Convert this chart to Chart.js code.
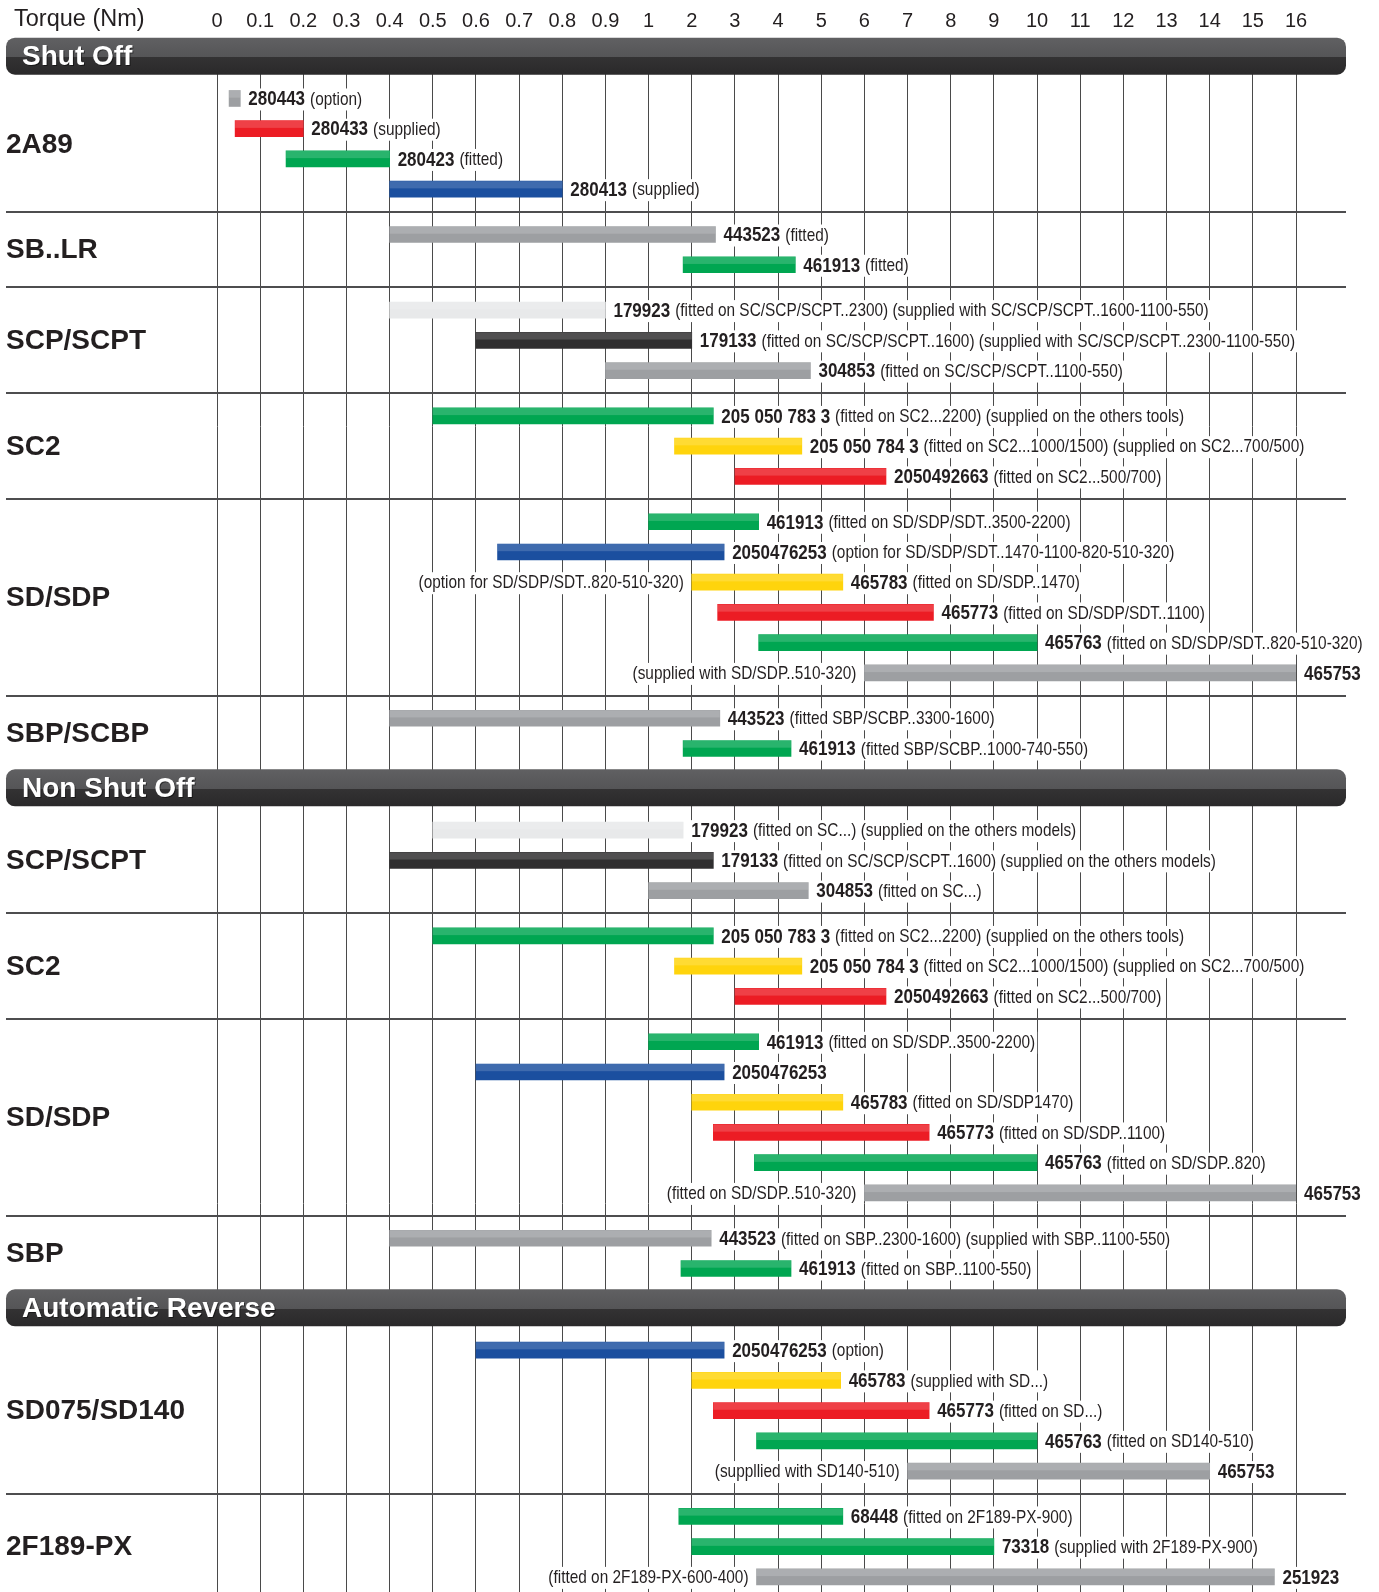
<!DOCTYPE html>
<html>
<head>
<meta charset="utf-8">
<title>Torque chart</title>
<script src="https://cdn.jsdelivr.net/npm/chart.js@4"></script>
<style>
  html, body { margin: 0; padding: 0; background: #fff; }
  #wrap { position: relative; width: 1379px; height: 1592px; }
</style>
</head>
<body>
<div id="wrap"><canvas id="chart"></canvas></div>
<script>
// Tick labels along the top (scale is 0..1 by 0.1, then 1..16 by 1)
const tickLabels = ["0","0.1","0.2","0.3","0.4","0.5","0.6","0.7","0.8","0.9",
  "1","2","3","4","5","6","7","8","9","10","11","12","13","14","15","16"];

const sections = ["Shut Off", "Non Shut Off", "Automatic Reverse"];

const groupNames = ["2A89", "SB..LR", "SCP/SCPT", "SC2", "SD/SDP", "SBP/SCBP",
  "SCP/SCPT", "SC2", "SD/SDP", "SBP",
  "SD075/SD140", "2F189-PX"];
const groupSection = [0, 0, 0, 0, 0, 0, 1, 1, 1, 1, 2, 2];

// one entry per bar
const barGroup = [
  0, 0, 0, 0,
  1, 1,
  2, 2, 2,
  3, 3, 3,
  4, 4, 4, 4, 4, 4,
  5, 5,
  6, 6, 6,
  7, 7, 7,
  8, 8, 8, 8, 8, 8,
  9, 9,
  10, 10, 10, 10, 10,
  11, 11, 11
];
const barStart = [
  0.028, 0.042, 0.16, 0.4,
  0.4, 1.8,
  0.4, 0.6, 0.9,
  0.5, 1.6, 3,
  1, 0.65, 2, 2.6, 3.55, 6,
  0.4, 1.8,
  0.5, 0.4, 1,
  0.5, 1.6, 3,
  1, 0.6, 2, 2.5, 3.45, 6,
  0.4, 1.75,
  0.6, 2, 2.5, 3.5, 7,
  1.7, 2, 3.5
];
const barEnd = [
  0.054, 0.2, 0.4, 0.8,
  2.55, 4.4,
  0.9, 2, 4.75,
  2.5, 4.55, 6.5,
  3.55, 2.75, 5.5, 7.6, 10, 16,
  2.65, 4.3,
  1.8, 2.5, 4.7,
  2.5, 4.55, 6.5,
  3.55, 2.75, 5.5, 7.5, 10, 16,
  2.45, 4.3,
  2.75, 5.45, 7.5, 10, 14,
  5.5, 9, 15.5
];
const barColor = [
  "gray", "red", "green", "blue",
  "gray", "green",
  "light", "black", "gray",
  "green", "yellow", "red",
  "green", "blue", "yellow", "red", "green", "gray",
  "gray", "green",
  "light", "black", "gray",
  "green", "yellow", "red",
  "green", "blue", "yellow", "red", "green", "gray",
  "gray", "green",
  "blue", "yellow", "red", "green", "gray",
  "green", "green", "gray"
];
const barCode = [
  "280443", "280433", "280423", "280413",
  "443523", "461913",
  "179923", "179133", "304853",
  "205 050 783 3", "205 050 784 3", "2050492663",
  "461913", "2050476253", "465783", "465773", "465763", "465753",
  "443523", "461913",
  "179923", "179133", "304853",
  "205 050 783 3", "205 050 784 3", "2050492663",
  "461913", "2050476253", "465783", "465773", "465763", "465753",
  "443523", "461913",
  "2050476253", "465783", "465773", "465763", "465753",
  "68448", "73318", "251923"
];
const barNote = [
  "(option)", "(supplied)", "(fitted)", "(supplied)",
  "(fitted)", "(fitted)",
  "(fitted on SC/SCP/SCPT..2300) (supplied with SC/SCP/SCPT..1600-1100-550)",
  "(fitted on SC/SCP/SCPT..1600) (supplied with SC/SCP/SCPT..2300-1100-550)",
  "(fitted on SC/SCP/SCPT..1100-550)",
  "(fitted on SC2...2200) (supplied on the others tools)",
  "(fitted on SC2...1000/1500) (supplied on SC2...700/500)",
  "(fitted on SC2...500/700)",
  "(fitted on SD/SDP/SDT..3500-2200)",
  "(option for SD/SDP/SDT..1470-1100-820-510-320)",
  "(fitted on SD/SDP..1470)",
  "(fitted on SD/SDP/SDT..1100)",
  "(fitted on SD/SDP/SDT..820-510-320)",
  "",
  "(fitted SBP/SCBP..3300-1600)",
  "(fitted SBP/SCBP..1000-740-550)",
  "(fitted on SC...) (supplied on the others models)",
  "(fitted on SC/SCP/SCPT..1600) (supplied on the others models)",
  "(fitted on SC...)",
  "(fitted on SC2...2200) (supplied on the others tools)",
  "(fitted on SC2...1000/1500) (supplied on SC2...700/500)",
  "(fitted on SC2...500/700)",
  "(fitted on SD/SDP..3500-2200)",
  "",
  "(fitted on SD/SDP1470)",
  "(fitted on SD/SDP..1100)",
  "(fitted on SD/SDP..820)",
  "",
  "(fitted on SBP..2300-1600) (supplied with SBP..1100-550)",
  "(fitted on SBP..1100-550)",
  "(option)",
  "(supplied with SD...)",
  "(fitted on SD...)",
  "(fitted on SD140-510)",
  "",
  "(fitted on 2F189-PX-900)",
  "(supplied with 2F189-PX-900)",
  ""
];
const barLeftNote = [
  "", "", "", "",
  "", "",
  "", "", "",
  "", "", "",
  "", "", "(option for SD/SDP/SDT..820-510-320)", "", "", "(supplied with SD/SDP..510-320)",
  "", "",
  "", "", "",
  "", "", "",
  "", "", "", "", "", "(fitted on SD/SDP..510-320)",
  "", "",
  "", "", "", "", "(suppllied with SD140-510)",
  "", "", "(fitted on 2F189-PX-600-400)"
];

const palette = {
  gray: "#9d9fa2",
  red: "#ec1c24",
  green: "#00a651",
  blue: "#1b4f9f",
  light: "#e8e9ea",
  black: "#2f2e2f",
  yellow: "#ffd40c"
};

const SANS = "'Liberation Sans', Arial, Helvetica, sans-serif";
const INK = "#231f20";
const SQUEEZE = 0.81; // labels are set in a condensed face

// torque value -> position on the evenly spaced tick axis
const toIdx = v => (v <= 1 ? v * 10 : 9 + v);

// vertical layout of rows (in row units)
const headerPos = [];
const barPos = [];
let pos = null;
barGroup.forEach((g, i) => {
  const s = groupSection[g];
  if (i === 0 || s !== groupSection[barGroup[i - 1]]) {
    pos = pos === null ? 0 : pos + 1.3;
    headerPos.push(pos);
    pos += 1.4;
  } else if (g !== barGroup[i - 1]) {
    pos += 1.5;
  } else {
    pos += 1;
  }
  barPos.push(pos);
});

const chartData = barStart.map((s, i) => ({ x: [toIdx(s), toIdx(barEnd[i])], y: barPos[i] }));

function narrowText(ctx, text, x, y, align) {
  const w = ctx.measureText(text).width * SQUEEZE;
  const left = align === "right" ? x - w : x;
  ctx.save();
  ctx.translate(left, y);
  ctx.scale(SQUEEZE, 1);
  ctx.textAlign = "left";
  ctx.fillText(text, 0, 0);
  ctx.restore();
  return w;
}

// group labels, separators and section headers
const framePlugin = {
  id: "frame",
  afterDraw(chart) {
    const ctx = chart.ctx;
    const ys = chart.scales.y;
    const x0 = 6, x1 = 1346;
    ctx.save();

    ctx.fillStyle = INK;
    ctx.font = "23.5px " + SANS;
    ctx.textBaseline = "middle";
    ctx.textAlign = "left";
    ctx.fillText("Torque (Nm)", 14, 20);

    groupNames.forEach((name, g) => {
      const ps = barPos.filter((p, i) => barGroup[i] === g);
      const cy = ys.getPixelForValue((ps[0] + ps[ps.length - 1]) / 2);
      ctx.fillStyle = INK;
      ctx.font = "bold 28px " + SANS;
      ctx.textBaseline = "middle";
      ctx.fillText(name, 6, cy + 1);

      const next = g + 1;
      if (next < groupNames.length && groupSection[next] === groupSection[g]) {
        const nextFirst = barPos[barGroup.indexOf(next)];
        const sy = Math.round(ys.getPixelForValue((ps[ps.length - 1] + nextFirst) / 2));
        ctx.strokeStyle = "#4d4d4f";
        ctx.lineWidth = 2;
        ctx.beginPath();
        ctx.moveTo(x0, sy);
        ctx.lineTo(x1, sy);
        ctx.stroke();
      }
    });

    headerPos.forEach((p, k) => {
      const cy = ys.getPixelForValue(p);
      const h = 37;
      const top = cy - h / 2;
      const grad = ctx.createLinearGradient(0, top, 0, top + h);
      grad.addColorStop(0, "#606062");
      grad.addColorStop(0.52, "#555557");
      grad.addColorStop(0.53, "#333233");
      grad.addColorStop(1, "#2a292a");
      ctx.fillStyle = grad;
      ctx.beginPath();
      ctx.roundRect(x0, top, x1 - x0, h, 9);
      ctx.fill();

      ctx.font = "bold 28px " + SANS;
      ctx.textBaseline = "middle";
      ctx.fillStyle = "rgba(0,0,0,0.5)";
      ctx.fillText(sections[k], 23, cy + 2);
      ctx.fillStyle = "#ffffff";
      ctx.fillText(sections[k], 22, cy + 1);
    });
    ctx.restore();
  }
};

// bar sheen and the part number labels
const labelPlugin = {
  id: "barLabels",
  afterDatasetsDraw(chart) {
    const ctx = chart.ctx;
    const meta = chart.getDatasetMeta(0);
    const codeFont = "bold 21px " + SANS;
    const noteFont = "19px " + SANS;
    ctx.save();
    ctx.textBaseline = "middle";
    meta.data.forEach((bar, i) => {
      const left = Math.min(bar.x, bar.base);
      const right = Math.max(bar.x, bar.base);
      const top = bar.y - bar.height / 2;

      ctx.fillStyle = "rgba(255,255,255,0.16)";
      ctx.fillRect(left, top, right - left, bar.height * 0.45);

      const cy = bar.y + 1;
      ctx.font = codeFont;
      const wCode = ctx.measureText(barCode[i]).width * SQUEEZE;
      ctx.font = noteFont;
      const wNote = barNote[i] ? ctx.measureText(barNote[i]).width * SQUEEZE + 5 : 0;
      const tx = right + 8;
      ctx.fillStyle = "#ffffff";
      ctx.fillRect(tx - 2, cy - 11, wCode + wNote + 4, 22);
      ctx.fillStyle = INK;
      ctx.font = codeFont;
      narrowText(ctx, barCode[i], tx, cy, "left");
      if (barNote[i]) {
        ctx.font = noteFont;
        narrowText(ctx, barNote[i], tx + wCode + 5, cy, "left");
      }
      if (barLeftNote[i]) {
        ctx.font = noteFont;
        const w = ctx.measureText(barLeftNote[i]).width * SQUEEZE;
        const lx = left - 8;
        ctx.fillStyle = "#ffffff";
        ctx.fillRect(lx - w - 2, cy - 11, w + 4, 22);
        ctx.fillStyle = INK;
        narrowText(ctx, barLeftNote[i], lx, cy, "right");
      }
    });
    ctx.restore();
  }
};

const ctx = document.getElementById("chart").getContext("2d");

new Chart(ctx, {
  type: "bar",
  data: {
    datasets: [{
      data: chartData,
      backgroundColor: barColor.map(c => palette[c]),
      borderWidth: 0,
      barThickness: 16
    }]
  },
  options: {
    indexAxis: "y",
    responsive: true,
    maintainAspectRatio: false,
    animation: false,
    layout: { padding: { left: 217, right: 83, top: 0, bottom: 0 } },
    plugins: {
      legend: { display: false },
      tooltip: { enabled: false }
    },
    scales: {
      x: {
        type: "linear",
        position: "top",
        min: 0,
        max: 25,
        offset: false,
        afterFit: s => { s.height = 38; },
        ticks: {
          stepSize: 1,
          autoSkip: false,
          maxTicksLimit: 40,
          padding: 5,
          color: INK,
          font: { family: SANS, size: 20 },
          callback: v => tickLabels[v]
        },
        grid: { color: "#4a4a4a", lineWidth: 1, drawTicks: false },
        border: { display: false }
      },
      y: {
        type: "linear",
        reverse: true,
        offset: false,
        bounds: "data",
        min: -0.6,
        max: 50.8,
        grid: { offset: false },
        display: false
      }
    }
  },
  plugins: [labelPlugin, framePlugin]
});
</script>
</body>
</html>
